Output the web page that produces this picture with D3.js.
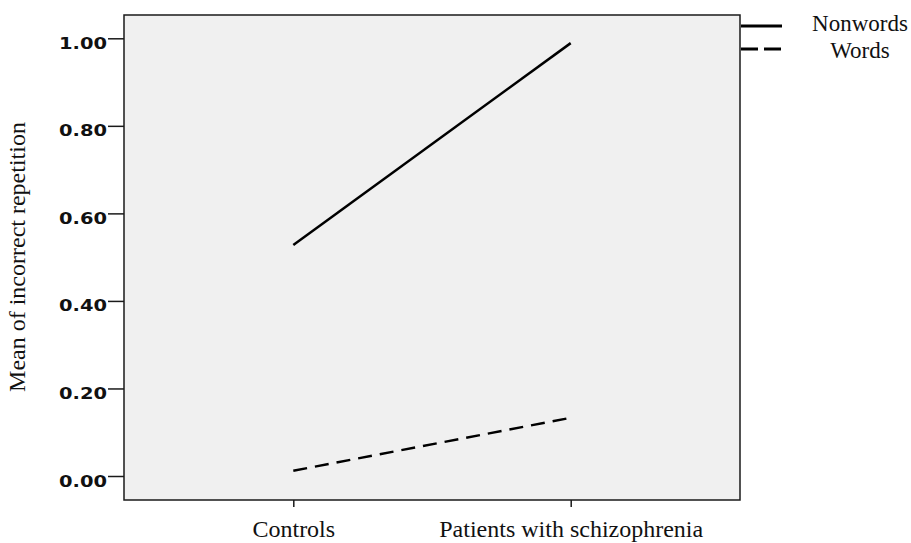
<!DOCTYPE html>
<html><head><meta charset="utf-8">
<script src="https://cdn.jsdelivr.net/npm/d3@7"></script>
<style>body{margin:0;background:#fff}</style>
</head><body>
<svg id="c" width="911" height="543"></svg>
<script>
const categories = ["Controls", "Patients with schizophrenia"];
const seriesNames = ["Nonwords", "Words"];
const nonwords = [0.528, 0.989];
const words = [0.012, 0.133];
const yTicks = [0, 0.2, 0.4, 0.6, 0.8, 1.0];

const svg = d3.select("#c");
const L = 124, T = 15, R = 740, B = 500;
const serif = "Liberation Serif, Times New Roman, serif";

const x = d3.scalePoint().domain(categories).range([293.3, 570.7]);
const y = d3.scaleLinear().domain([0, 1]).range([476, 38.3]);

svg.append("rect").attr("x", L).attr("y", T).attr("width", R - L).attr("height", B - T)
  .attr("fill", "#f0f0f0").attr("stroke", "#1a1a1a").attr("stroke-width", 1.5);

// y axis
const ya = svg.append("g").attr("transform", `translate(${L},0)`)
  .call(d3.axisLeft(y).tickValues(yTicks).tickFormat(d3.format(".2f")).tickSize(16).tickSizeOuter(0));
ya.select(".domain").remove();
ya.selectAll(".tick line").attr("stroke", "#1a1a1a").attr("stroke-width", 1.5);
ya.selectAll(".tick text").attr("font-family", "DejaVu Sans, sans-serif")
  .attr("font-weight", "bold").attr("font-size", 15).attr("fill", "#111")
  .attr("x", -17).attr("dy", null).attr("y", 10)
  .attr("textLength", 48).attr("lengthAdjust", "spacingAndGlyphs");

// x axis
const xa = svg.append("g").attr("transform", `translate(0,${B})`)
  .call(d3.axisBottom(x).tickSize(7).tickSizeOuter(0));
xa.select(".domain").remove();
xa.selectAll(".tick line").attr("stroke", "#1a1a1a").attr("stroke-width", 1.5);
xa.selectAll(".tick text").attr("font-family", serif)
  .attr("font-size", 24).attr("fill", "#111").attr("dy", null).attr("y", 37);

// y title
svg.append("text").attr("transform", "translate(25,257) rotate(-90)")
  .attr("text-anchor", "middle").attr("font-family", serif)
  .attr("font-size", 24).attr("fill", "#111").text("Mean of incorrect repetition");

const line = d3.line().x((d, i) => x(categories[i])).y(d => y(d));
const dashes = [null, "14,8"];
[nonwords, words].forEach((s, k) => {
  svg.append("path").datum(s).attr("d", line).attr("fill", "none")
    .attr("stroke", "#000").attr("stroke-width", 2.5).attr("stroke-dasharray", dashes[k]);
});

// legend
const legY = [26, 49];
const legBase = [31, 57.5];
seriesNames.forEach((n, k) => {
  svg.append("line").attr("x1", 741).attr("x2", 782).attr("y1", legY[k]).attr("y2", legY[k])
    .attr("stroke", "#000").attr("stroke-width", 2.8).attr("stroke-dasharray", k ? "17,6" : null);
  svg.append("text").attr("x", 860).attr("y", legBase[k]).attr("text-anchor", "middle")
    .attr("font-family", serif).attr("font-size", 23)
    .attr("fill", "#111").text(n);
});
</script>
</body></html>
